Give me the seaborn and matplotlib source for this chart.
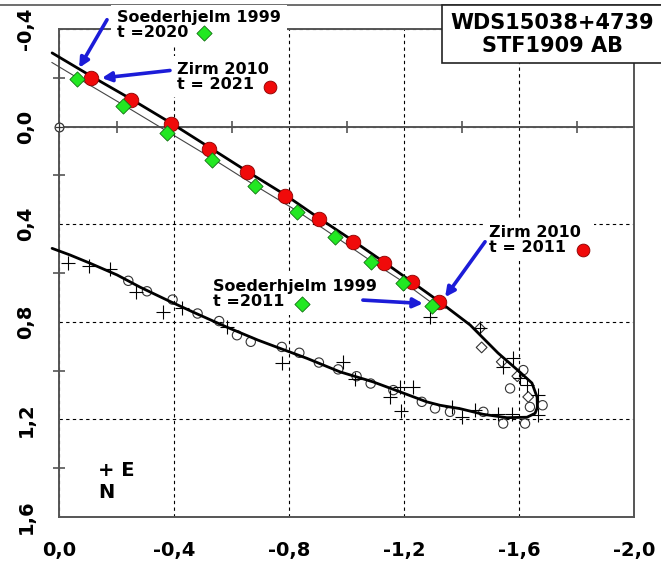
import numpy as np
import pandas as pd
import matplotlib
matplotlib.use("Agg")
import matplotlib.pyplot as plt
from matplotlib.lines import Line2D
from matplotlib.patches import Rectangle
from matplotlib.ticker import FuncFormatter, FixedLocator
import seaborn as sns

# ---- orbit curves ----
zirm_x = [0.024, -0.110, -0.249, -0.389, -0.523, -0.655, -0.787, -0.904, -1.024, -1.130,
          -1.228, -1.325, -1.430, -1.527, -1.603, -1.645, -1.663, -1.664, -1.656, -1.628,
          -1.558, -1.475, -1.395, -1.325, -1.279, -1.186, -1.092, -0.977, -0.863, -0.769,
          -0.692, -0.584, -0.466, -0.376, -0.282, -0.202, -0.108, -0.038, 0.024]
zirm_y = [-0.302, -0.208, -0.114, -0.015, 0.085, 0.184, 0.280, 0.375, 0.469, 0.555,
          0.637, 0.719, 0.813, 0.928, 1.006, 1.051, 1.109, 1.150, 1.175, 1.191,
          1.193, 1.179, 1.156, 1.142, 1.128, 1.087, 1.046, 1.005, 0.950, 0.909,
          0.875, 0.822, 0.760, 0.711, 0.658, 0.608, 0.560, 0.526, 0.499]

soed_x = [0.025, -0.064, -0.222, -0.377, -0.532, -0.680, -0.827, -0.960, -1.084, -1.198,
          -1.296, -1.345]
soed_y = [-0.263, -0.200, -0.090, 0.020, 0.130, 0.240, 0.345, 0.450, 0.550, 0.637,
          0.722, 0.745]

# ---- ephemerides ----
zirm_eph_x = [-0.110, -0.249, -0.388, -0.523, -0.655, -0.787, -0.904, -1.024, -1.130, -1.228, -1.323]
zirm_eph_y = [-0.201, -0.110, -0.010, 0.090, 0.188, 0.284, 0.379, 0.472, 0.558, 0.637, 0.719]

soed_eph_x = [-0.064, -0.222, -0.377, -0.532, -0.680, -0.827, -0.960, -1.084, -1.198, -1.296]
soed_eph_y = [-0.194, -0.085, 0.025, 0.135, 0.245, 0.350, 0.454, 0.554, 0.641, 0.736]

# ---- observations ----
cross_x = [-0.032, -0.105, -0.177, -0.268, -0.362, -0.428, -0.586, -0.775, -0.988, -1.030,
           -1.186, -1.232, -1.151, -1.188, -1.290, -1.366, -1.401, -1.447, -1.464, -1.528,
           -1.575, -1.545, -1.580, -1.603, -1.627, -1.667, -1.667]
cross_y = [0.560, 0.572, 0.585, 0.678, 0.760, 0.745, 0.820, 0.967, 0.965, 1.035,
           1.067, 1.067, 1.108, 1.166, 0.779, 1.149, 1.190, 1.162, 0.827, 1.176,
           1.176, 0.985, 0.950, 1.032, 1.060, 1.101, 1.183]

circle_x = [-0.241, -0.306, -0.395, -0.482, -0.557, -0.619, -0.667, -0.775, -0.836, -0.904,
            -0.971, -1.035, -1.084, -1.163, -1.262, -1.308, -1.360, -1.476, -1.545, -1.621,
            -1.569, -1.615, -1.638, -1.682]
circle_y = [0.632, 0.675, 0.709, 0.766, 0.797, 0.855, 0.882, 0.903, 0.927, 0.967,
            0.995, 1.023, 1.053, 1.080, 1.128, 1.155, 1.169, 1.169, 1.217, 1.217,
            1.073, 0.998, 1.149, 1.142]

diam_x = [-1.464, -1.470, -1.540, -1.594, -1.632]
diam_y = [0.827, 0.905, 0.964, 1.023, 1.108]

primary_x = [0.0]
primary_y = [0.0]

x_ticks = [0.0, -0.4, -0.8, -1.2, -1.6, -2.0]
y_ticks = [-0.4, 0.0, 0.4, 0.8, 1.2, 1.6]
x_minor = [-0.2, -0.6, -1.0, -1.4, -1.8]
y_minor = [-0.2, 0.2, 0.6, 1.0, 1.4]

RED = "#f00a0a"
GREEN = "#22e822"
BLUE = "#1c1cd8"
AXIS_GRAY = "#555555"

sns.set_style("white")
plt.rcParams["font.family"] = ["DejaVu Sans"]
plt.rcParams["text.color"] = "black"
plt.rcParams["xtick.color"] = "black"
plt.rcParams["ytick.color"] = "black"

fig = plt.figure(figsize=(6.61, 5.61), dpi=100)
ax = fig.add_axes([59 / 661, 1 - 517 / 561, (634 - 59) / 661, (517 - 29) / 561])

# orbits
sns.lineplot(x=zirm_x, y=zirm_y, sort=False, estimator=None, color="black", lw=2.0,
             ax=ax, zorder=3, clip_on=False)
sns.lineplot(x=soed_x, y=soed_y, sort=False, estimator=None, color="#444444", lw=0.8,
             ax=ax, zorder=3, clip_on=False)

# observations
sns.scatterplot(x=circle_x, y=circle_y, marker="o", s=45, facecolor="none",
                edgecolor="#333333", linewidth=0.8, ax=ax, zorder=2)
sns.scatterplot(x=diam_x, y=diam_y, marker="D", s=30, facecolor="none",
                edgecolor="#333333", linewidth=0.8, ax=ax, zorder=2)
sns.scatterplot(x=cross_x, y=cross_y, marker="+", s=90, color="black",
                linewidth=0.8, ax=ax, zorder=2)
sns.scatterplot(x=primary_x, y=primary_y, marker="o", s=40, facecolor="white",
                edgecolor="#333333", linewidth=0.9, ax=ax, zorder=5, clip_on=False)
sns.scatterplot(x=primary_x, y=primary_y, marker="+", s=40, color="#333333",
                linewidth=0.9, ax=ax, zorder=6, clip_on=False)

# ephemerides
sns.scatterplot(x=soed_eph_x, y=soed_eph_y, marker="D", s=60, color=GREEN,
                edgecolor="#127012", linewidth=0.6, ax=ax, zorder=7)
sns.scatterplot(x=zirm_eph_x, y=zirm_eph_y, marker="o", s=110, color=RED,
                edgecolor="#8a0000", linewidth=0.6, ax=ax, zorder=6)

ax.set_xlim(0.0, -2.0)
ax.set_ylim(1.6, -0.4)

# axes, grid, ticks
for side in ["left", "bottom", "right", "top"]:
    ax.spines[side].set_color(AXIS_GRAY)
    ax.spines[side].set_linewidth(1.4)
    ax.spines[side].set_visible(True)

ax.xaxis.set_major_locator(FixedLocator(x_ticks))
ax.yaxis.set_major_locator(FixedLocator(y_ticks))
ax.yaxis.set_minor_locator(FixedLocator(y_minor))
comma = FuncFormatter(lambda v, p: f"{v + 0.0:.1f}".replace(".", ",").replace("-0,0", "0,0"))
ax.xaxis.set_major_formatter(comma)
ax.yaxis.set_major_formatter(comma)
ax.tick_params(axis="both", which="major", length=0, pad=17, labelsize=14,
               labelcolor="black")
ax.tick_params(axis="y", which="minor", direction="inout", length=9, width=1.2,
               color=AXIS_GRAY, left=True)
for lab in ax.get_xticklabels() + ax.get_yticklabels():
    lab.set_fontweight("bold")
for lab in ax.get_yticklabels():
    lab.set_rotation(90)
    lab.set_va("center")

ax.grid(True, which="major", color="black", lw=0.8, ls=(0, (3, 3)))
ax.axhline(0.0, color=AXIS_GRAY, lw=1.4, zorder=1.5)
ax.plot(x_minor, [0.0] * len(x_minor), ls="none", marker="|", ms=9, mew=1.2,
        color=AXIS_GRAY, zorder=1.6)
ax.set_xlabel("")
ax.set_ylabel("")

# labels and arrows
lab_kw = dict(fontsize=11.5, fontweight="bold", ha="left", va="center", linespacing=1.0,
              color="black", zorder=8, clip_on=False,
              bbox=dict(boxstyle="square,pad=0.35", facecolor="white", edgecolor="none"))
arrow_kw = dict(arrowstyle="-|>", color=BLUE, lw=2.6, mutation_scale=14, shrinkA=0, shrinkB=0)

ax.text(-0.202, -0.416, "Soederhjelm 1999\nt =2020    ", **lab_kw)
ax.annotate("", xy=(-0.070, -0.241), xytext=(-0.167, -0.438), arrowprops=arrow_kw,
            annotation_clip=False, zorder=9)
ax.text(-0.410, -0.204, "Zirm 2010\nt = 2021    ", **lab_kw)
ax.annotate("", xy=(-0.149, -0.199), xytext=(-0.386, -0.230), arrowprops=arrow_kw,
            annotation_clip=False, zorder=9)
ax.text(-1.496, 0.465, "Zirm 2010\nt = 2011    ", **lab_kw)
ax.annotate("", xy=(-1.343, 0.699), xytext=(-1.482, 0.472), arrowprops=arrow_kw,
            annotation_clip=False, zorder=9)
ax.text(-0.536, 0.688, "Soederhjelm 1999\nt =2011    ", **lab_kw)
ax.annotate("", xy=(-1.266, 0.725), xytext=(-1.057, 0.711), arrowprops=arrow_kw,
            annotation_clip=False, zorder=9)

# legend symbols next to the labels
ax.scatter([-0.504, -0.845], [-0.384, 0.727], marker="D", s=60, color=GREEN,
           edgecolor="#127012", linewidth=0.6, zorder=10, clip_on=False)
ax.scatter([-0.734, -1.823], [-0.163, 0.506], marker="o", s=85, color=RED,
           edgecolor="#8a0000", linewidth=0.6, zorder=10, clip_on=False)

ax.text(-0.135, 1.408, "+ E", fontsize=14, fontweight="bold", ha="left", va="center",
        color="black")
ax.text(-0.135, 1.499, "N", fontsize=14, fontweight="bold", ha="left", va="center",
        color="black")

# outer frame line and title box
fig.add_artist(Line2D([0, 1], [1 - 5 / 561, 1 - 5 / 561], transform=fig.transFigure,
                      color=AXIS_GRAY, lw=1.2, zorder=-1))
fig.add_artist(Rectangle((442 / 661, 1 - 63 / 561), 0.4, 58 / 561, transform=fig.transFigure,
                         facecolor="white", edgecolor="#222222", lw=1.2, zorder=20))
fig.text(552 / 661, 1 - 34.5 / 561, "WDS15038+4739\nSTF1909 AB", fontsize=15,
         fontweight="bold", ha="center", va="center", linespacing=1.15, color="black",
         zorder=21)

fig.savefig("out.png", dpi=100)
